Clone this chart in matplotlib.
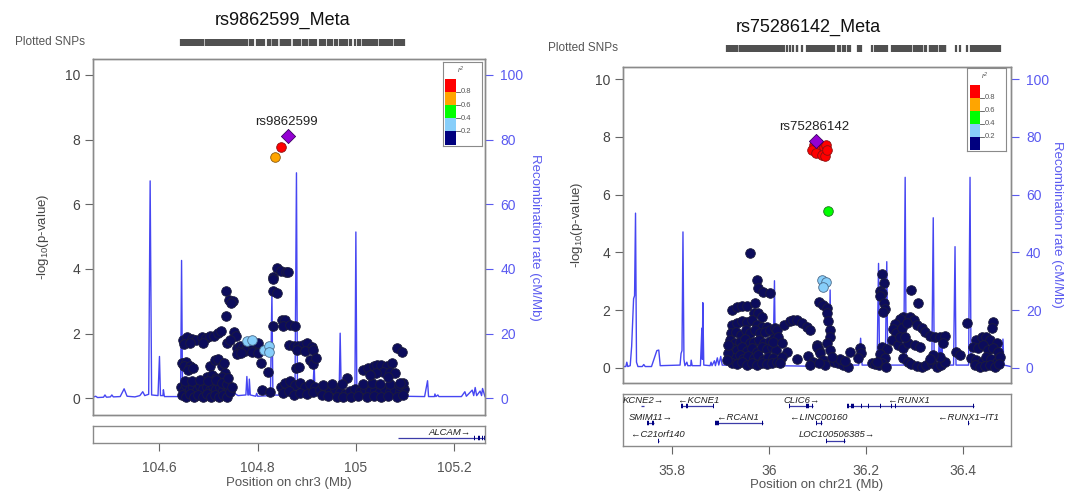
import matplotlib
matplotlib.use('Agg')
import matplotlib.pyplot as plt

plt.rcParams['font.family'] = ['Liberation Sans', 'DejaVu Sans']
plt.rcParams['mathtext.default'] = 'regular'

# ======================= DATA : left panel (chr3) =======================
left_title = 'rs9862599_Meta'
left_xlabel = 'Position on chr3 (Mb)'
left_xticks = [104.6, 104.8, 105.0, 105.2]
left_xticklabels = ['104.6', '104.8', '105', '105.2']
left_lead_name = 'rs9862599'
left_lead = [(104.862, 8.11)]
left_red = [(104.848, 7.78)]
left_orange = [(104.835, 7.46)]
left_green = []
left_lightblue = [(104.778, 1.77), (104.788, 1.80), (104.812, 1.50), (104.824, 1.62), (104.823, 1.44)]
left_navy = [
    (104.647, 1.80), (104.657, 1.89), (104.666, 1.82), (104.674, 1.80), (104.686, 1.89), (104.695, 1.85),
    (104.703, 1.93), (104.711, 1.93), (104.720, 2.01), (104.725, 2.09), (104.650, 1.68), (104.662, 1.72),
    (104.689, 1.72), (104.645, 1.08), (104.655, 1.13), (104.649, 0.98), (104.662, 0.98), (104.659, 0.88),
    (104.669, 0.93), (104.703, 0.98), (104.713, 1.17), (104.720, 1.21), (104.727, 1.00), (104.731, 1.08),
    (104.733, 0.77), (104.696, 0.67), (104.706, 0.72), (104.716, 0.62), (104.727, 0.67), (104.730, 0.46),
    (104.736, 3.32), (104.742, 3.04), (104.749, 3.01), (104.746, 2.94), (104.736, 2.55), (104.738, 1.70),
    (104.752, 2.06), (104.755, 1.93), (104.744, 1.80),
    (104.643, 0.36), (104.649, 0.26), (104.655, 0.41), (104.662, 0.28), (104.669, 0.36), (104.676, 0.24),
    (104.682, 0.38), (104.689, 0.28), (104.696, 0.36), (104.703, 0.24), (104.710, 0.38), (104.716, 0.28),
    (104.723, 0.36), (104.730, 0.24), (104.737, 0.36), (104.742, 0.28), (104.645, 0.10), (104.654, 0.05),
    (104.662, 0.13), (104.670, 0.05), (104.679, 0.10), (104.688, 0.05), (104.696, 0.13), (104.704, 0.05),
    (104.713, 0.10), (104.722, 0.05), (104.730, 0.10), (104.737, 0.05), (104.652, 0.52), (104.666, 0.52),
    (104.682, 0.57), (104.699, 0.52), (104.715, 0.55), (104.727, 0.48), (104.737, 0.44), (104.744, 0.18),
    (104.747, 0.36), (104.740, 0.62),
    (104.757, 1.55), (104.764, 1.60), (104.771, 1.58), (104.778, 1.62), (104.784, 1.60), (104.791, 1.58),
    (104.798, 1.55), (104.805, 1.52), (104.761, 1.44), (104.774, 1.47), (104.788, 1.44), (104.801, 1.41),
    (104.757, 1.37), (104.767, 1.39), (104.806, 1.08), (104.808, 0.24), (104.822, 0.82), (104.825, 0.18),
    (104.832, 2.24), (104.801, 1.70),
    (104.831, 3.76), (104.831, 3.68), (104.840, 4.02), (104.847, 3.92), (104.858, 3.89), (104.861, 3.89),
    (104.832, 3.30), (104.839, 3.25), (104.849, 2.42), (104.856, 2.42), (104.852, 2.22), (104.866, 2.27),
    (104.876, 2.24), (104.864, 1.65), (104.874, 1.60), (104.883, 1.60), (104.892, 1.65), (104.900, 1.70),
    (104.910, 1.58), (104.881, 1.50), (104.896, 1.47), (104.913, 1.50), (104.879, 0.93), (104.885, 0.96),
    (104.907, 1.19), (104.912, 1.06), (104.919, 1.24), (104.847, 0.36), (104.856, 0.46), (104.866, 0.52),
    (104.876, 0.41), (104.886, 0.48), (104.896, 0.36), (104.907, 0.44), (104.917, 0.36), (104.852, 0.15),
    (104.864, 0.21), (104.874, 0.10), (104.886, 0.15), (104.900, 0.13), (104.912, 0.18),
    (104.927, 0.26), (104.937, 0.31), (104.947, 0.24), (104.958, 0.28), (104.968, 0.18), (104.978, 0.13),
    (104.988, 0.21), (104.998, 0.28), (105.008, 0.21), (105.019, 0.28), (105.029, 0.21), (105.039, 0.26),
    (105.049, 0.21), (105.059, 0.28), (105.070, 0.21), (105.080, 0.26), (105.090, 0.21), (105.098, 0.28),
    (104.930, 0.10), (104.944, 0.07), (104.961, 0.05), (104.974, 0.03), (104.991, 0.05), (105.005, 0.07),
    (105.022, 0.05), (105.036, 0.07), (105.052, 0.05), (105.066, 0.07), (105.083, 0.05), (105.097, 0.10),
    (104.934, 0.41), (104.951, 0.44), (105.015, 0.44), (105.032, 0.46), (105.049, 0.44), (105.070, 0.44),
    (105.087, 0.41), (105.095, 0.46), (105.015, 0.88), (105.025, 0.93), (105.036, 1.00), (105.044, 1.03),
    (105.052, 1.03), (105.063, 0.98), (105.073, 1.10), (105.056, 0.82), (105.042, 0.77), (105.029, 0.72),
    (105.070, 0.82), (105.080, 0.77), (105.066, 0.67), (104.981, 0.62), (104.971, 0.44), (105.083, 1.55),
    (105.093, 1.44), (105.090, 0.48),
]
left_recomb_pos = [
    104.464, 104.470, 104.474, 104.486, 104.489, 104.492, 104.500, 104.503, 104.506, 104.520, 104.528,
    104.534, 104.550, 104.560, 104.566, 104.570, 104.578, 104.581, 104.584, 104.597, 104.600, 104.602,
    104.607, 104.608, 104.610, 104.640, 104.643, 104.645, 104.647, 104.660, 104.700, 104.740, 104.750,
    104.760, 104.776, 104.778, 104.780, 104.782, 104.783, 104.785, 104.796, 104.798, 104.800, 104.826,
    104.829, 104.831, 104.870, 104.876, 104.879, 104.881, 104.912, 104.915, 104.917, 104.960, 104.966,
    104.968, 104.970, 104.976, 104.998, 105.000, 105.002, 105.140, 105.146, 105.148, 105.160, 105.161,
    105.163, 105.167, 105.169, 105.215, 105.222, 105.225, 105.237, 105.240, 105.243, 105.246, 105.253,
    105.256, 105.258, 105.263]
left_recomb_rate = [
    0.3, 0.6, 0.2, 0.3, 1.0, 0.3, 0.4, 1.0, 0.4, 0.5, 2.9,
    0.6, 0.4, 0.8, 2.0, 0.8, 1.2, 67.2, 1.0, 0.8, 12.9, 0.8,
    0.8, 2.6, 0.5, 0.5, 1.5, 42.6, 1.0, 0.6, 0.5, 0.8, 1.8,
    0.8, 1.0, 6.7, 1.0, 1.0, 5.9, 1.0, 0.6, 1.5, 0.6, 0.8,
    32.5, 1.0, 0.8, 1.5, 69.7, 1.5, 0.8, 11.0, 0.8, 1.0, 2.5,
    20.1, 3.6, 1.0, 0.8, 51.4, 0.8, 0.5, 5.4, 0.5, 0.5, 1.3,
    0.5, 1.0, 0.5, 0.5, 2.0, 0.6, 2.5, 0.8, 3.3, 0.8, 2.2,
    0.8, 3.0, 0.5]
# genes: name, start, end, strand, row, label position, exons
left_genes = [
    ('ALCAM', 105.086, 105.40, '+', 0, 105.190,
     [(105.240, 105.243), (105.249, 105.252), (105.256, 105.259), (105.261, 105.264)]),
]

# ======================= DATA : right panel (chr21) =======================
right_title = 'rs75286142_Meta'
right_xlabel = 'Position on chr21 (Mb)'
right_xticks = [35.8, 36.0, 36.2, 36.4]
right_xticklabels = ['35.8', '36', '36.2', '36.4']
right_lead_name = 'rs75286142'
right_lead = [(36.097, 7.85)]
right_red = [(36.093, 7.72), (36.101, 7.79), (36.105, 7.61), (36.114, 7.65), (36.118, 7.72),
             (36.089, 7.54), (36.097, 7.44), (36.110, 7.37), (36.116, 7.34), (36.120, 7.54)]
right_orange = []
right_green = [(36.122, 5.43)]
right_lightblue = [(36.109, 3.05), (36.118, 2.99), (36.112, 2.79)]
right_navy = [
    (35.923, 2.01), (35.933, 2.10), (35.944, 2.15), (35.954, 2.15), (35.961, 3.99), (35.975, 3.05),
    (35.978, 2.76), (35.988, 2.64), (36.001, 2.61), (35.971, 2.24), (35.969, 1.89), (35.978, 1.91),
    (35.985, 1.78), (35.923, 1.49), (35.933, 1.55), (35.944, 1.64), (35.954, 1.60), (35.964, 1.66),
    (35.975, 1.49), (35.985, 1.43), (35.995, 1.41), (35.921, 1.20), (35.932, 1.26), (35.942, 1.14),
    (35.953, 1.32), (35.961, 1.20), (35.971, 1.32), (35.982, 1.20), (35.992, 1.26), (36.002, 1.32),
    (36.012, 1.37), (35.920, 0.97), (35.930, 0.85), (35.940, 0.91), (35.951, 0.99), (35.961, 0.85),
    (35.969, 0.91), (35.980, 0.97), (35.990, 0.85), (36.001, 0.95), (36.010, 1.03), (35.923, 0.68),
    (35.933, 0.62), (35.944, 0.74), (35.954, 0.60), (35.964, 0.68), (35.975, 0.57), (35.985, 0.74),
    (35.995, 0.65), (36.006, 0.74), (36.014, 0.62), (35.920, 0.42), (35.928, 0.33), (35.939, 0.45),
    (35.947, 0.30), (35.957, 0.42), (35.968, 0.33), (35.978, 0.45), (35.987, 0.28), (35.997, 0.39),
    (36.008, 0.33), (35.923, 0.18), (35.933, 0.14), (35.944, 0.22), (35.954, 0.10), (35.964, 0.18),
    (35.975, 0.10), (35.985, 0.18), (35.995, 0.14), (36.006, 0.18), (36.016, 0.22), (35.916, 0.51),
    (35.914, 0.80), (35.913, 0.28),
    (36.016, 1.32), (36.030, 1.49), (36.043, 1.64), (36.050, 1.66), (36.057, 1.66), (36.067, 1.57),
    (36.078, 1.43), (36.085, 1.32), (36.019, 1.08), (36.009, 0.91), (36.026, 0.85), (36.037, 0.57),
    (36.057, 0.30), (36.081, 0.42), (36.091, 0.22), (36.085, 0.10), (36.098, 0.80), (36.102, 0.62),
    (36.026, 0.39), (36.023, 0.16),
    (36.102, 2.29), (36.112, 2.18), (36.119, 2.06), (36.120, 1.89), (36.122, 1.64), (36.126, 1.32),
    (36.126, 1.08), (36.119, 0.85), (36.098, 0.74), (36.105, 0.51), (36.126, 0.62), (36.112, 0.28),
    (36.133, 0.22), (36.143, 0.18), (36.153, 0.10), (36.162, 0.05), (36.167, 0.57), (36.146, 0.30),
    (36.157, 0.25), (36.129, 0.39), (36.116, 0.10), (36.102, 0.18),
    (36.188, 0.68), (36.189, 0.51), (36.184, 0.33),
    (36.234, 3.25), (36.237, 2.95), (36.229, 2.68), (36.233, 2.61), (36.228, 2.49), (36.237, 2.26),
    (36.239, 2.03), (36.236, 1.95), (36.234, 0.74), (36.243, 0.65), (36.230, 0.48), (36.239, 0.33),
    (36.212, 0.16), (36.219, 0.14), (36.226, 0.10), (36.233, 0.16), (36.241, 0.05), (36.222, 0.22),
    (36.294, 2.70), (36.308, 2.24), (36.277, 1.75), (36.270, 1.68), (36.291, 1.75), (36.299, 1.66),
    (36.260, 1.52), (36.256, 1.34), (36.263, 1.20), (36.274, 1.37), (36.284, 1.55), (36.305, 1.49),
    (36.315, 1.37), (36.322, 1.26), (36.332, 1.11), (36.342, 1.06), (36.353, 1.08), (36.363, 1.11),
    (36.360, 0.85), (36.253, 0.97), (36.267, 0.80), (36.277, 0.68), (36.287, 0.85), (36.301, 0.80),
    (36.311, 0.71), (36.270, 1.08), (36.281, 1.06), (36.277, 0.33), (36.287, 0.22), (36.294, 0.14),
    (36.305, 0.07), (36.315, 0.05), (36.325, 0.10), (36.336, 0.16), (36.346, 0.05), (36.356, 0.10),
    (36.363, 0.22), (36.353, 0.39), (36.339, 0.45), (36.332, 0.30), (36.387, 0.57), (36.394, 0.45),
    (36.408, 1.55), (36.463, 1.60), (36.461, 1.40), (36.428, 0.97), (36.439, 1.06), (36.449, 1.08),
    (36.456, 0.97), (36.470, 0.85), (36.421, 0.74), (36.432, 0.68), (36.442, 0.80), (36.452, 0.62),
    (36.463, 0.68), (36.473, 0.57), (36.418, 0.33), (36.428, 0.28), (36.439, 0.22), (36.449, 0.39),
    (36.459, 0.30), (36.470, 0.22), (36.476, 0.39), (36.425, 0.10), (36.435, 0.05), (36.445, 0.07),
    (36.456, 0.10), (36.466, 0.05), (36.475, 0.14),
]
right_recomb_pos = [
    35.6975, 35.704, 35.706, 35.708, 35.713, 35.716, 35.720, 35.722, 35.724, 35.726, 35.729,
    35.738, 35.741, 35.744, 35.757, 35.762, 35.768, 35.772, 35.775,
    35.816, 35.818, 35.820, 35.822, 35.824, 35.826, 35.830, 35.832, 35.838, 35.839, 35.841,
    35.858, 35.861, 35.862, 35.863, 35.865, 35.878, 35.880, 35.882, 35.887, 35.889, 35.893, 35.896,
    35.900, 35.903, 36.008, 36.011, 36.013, 36.090, 36.124, 36.126, 36.128, 36.185, 36.189, 36.192,
    36.223, 36.226, 36.228, 36.234, 36.240, 36.243, 36.245, 36.278, 36.281, 36.283,
    36.336, 36.339, 36.341, 36.349, 36.352, 36.354, 36.357, 36.359, 36.381, 36.384, 36.386,
    36.412, 36.415, 36.417, 36.455, 36.460, 36.466, 36.470, 36.480, 36.483, 36.485, 36.499]
right_recomb_rate = [
    0.5, 0.5, 2.0, 0.5, 0.8, 7.5, 24.0, 25.0, 53.6, 2.0, 0.5,
    0.5, 1.2, 0.5, 0.5, 3.0, 6.0, 6.2, 0.8,
    1.0, 5.0, 6.0, 47.1, 3.0, 0.8, 2.0, 0.8, 0.8, 2.7, 0.8,
    0.8, 13.8, 3.0, 22.6, 1.0, 0.8, 2.0, 0.8, 2.5, 0.8, 3.5, 1.0,
    4.0, 1.0, 0.8, 30.2, 0.8, 0.6, 1.0, 27.0, 1.0, 1.0, 10.3, 1.0,
    1.0, 36.2, 3.0, 3.0, 3.0, 36.8, 1.0, 1.0, 66.0, 1.0,
    1.0, 52.0, 1.0, 1.0, 12.0, 1.0, 9.0, 1.0, 1.0, 42.0, 1.0,
    1.0, 66.0, 1.0, 1.0, 4.0, 4.0, 1.0, 1.0, 10.0, 1.0, 0.5]
right_genes = [
    ('KCNE2', 35.7346, 35.7421, '+', 0, 35.740, [(35.7346, 35.7356), (35.7411, 35.7421)]),
    ('KCNE1', 35.818, 35.885, '-', 0, 35.854, [(35.818, 35.823), (35.828, 35.833), (35.884, 35.886)]),
    ('CLIC6', 36.042, 36.091, '+', 0, 36.067, [(36.041, 36.044), (36.077, 36.083), (36.088, 36.091)]),
    ('RUNX1', 36.160, 36.423, '-', 0, 36.289,
     [(36.160, 36.166), (36.170, 36.175), (36.190, 36.192), (36.204, 36.206), (36.229, 36.231),
      (36.251, 36.253), (36.259, 36.263), (36.422, 36.424)]),
    ('SMIM11', 35.747, 35.762, '+', 1, 35.756, [(35.747, 35.751), (35.758, 35.762)]),
    ('RCAN1', 35.888, 35.988, '-', 1, 35.936, [(35.888, 35.897), (35.986, 35.988)]),
    ('LINC00160', 36.096, 36.110, '-', 1, 36.102, [(36.096, 36.099), (36.107, 36.110)]),
    ('RUNX1\u2212IT1', 36.410, 36.413, '-', 1, 36.411, [(36.410, 36.413)]),
    ('C21orf140', 35.770, 35.773, '-', 2, 35.771, [(35.770, 35.773)]),
    ('LOC100506385', 36.117, 36.157, '+', 2, 36.140, [(36.117, 36.119), (36.155, 36.157)]),
]

# ======================= styling =======================
W, H = 1078, 491
GRAY = '#555555'
SPINE = '#8a8a8a'
RECOMB = '#4646f2'
RECOMB_TXT = '#5a5af0'
NAVY_FC = '#0c0c5c'
NAVY_EC = '#1c1c3c'
LEGEND_COLORS = ['#00007f', '#87cefa', '#00ff00', '#ffa500', '#ff0000']


def px_rect(x0, y0, x1, y1):
    return [x0 / W, 1 - y1 / H, (x1 - x0) / W, (y1 - y0) / H]


def scatter(ax, pts, fc, ec, s=48, marker='o', z=3):
    if not pts:
        return
    xs = [p[0] for p in pts]
    ys = [p[1] for p in pts]
    ax.scatter(xs, ys, s=s, c=fc, edgecolors=ec, linewidths=0.6, marker=marker, zorder=z)


def draw_legend(ax, rect):
    lg = ax.inset_axes(rect)
    lg.set_xlim(0, 1)
    lg.set_ylim(0, 1)
    lg.set_xticks([])
    lg.set_yticks([])
    for sp in lg.spines.values():
        sp.set_color(SPINE)
        sp.set_linewidth(0.8)
    lg.set_zorder(10)
    y0, y1 = 0.01, 0.80
    step = (y1 - y0) / 5
    for i, col in enumerate(LEGEND_COLORS):
        lg.add_patch(plt.Rectangle((0.06, y0 + i * step), 0.27, step, facecolor=col,
                                   edgecolor='none'))
    for i, lab in enumerate(['0.2', '0.4', '0.6', '0.8']):
        yy = y0 + (i + 1) * step
        lg.plot([0.33, 0.42], [yy, yy], color=GRAY, lw=0.6)
        lg.text(0.44, yy, lab, fontsize=5.5, color=GRAY, va='center', ha='left')
    lg.text(0.45, 0.90, 'r$^2$', fontsize=5.5, color=GRAY, ha='center', va='center', style='italic')


def draw_panel(fig, main_px, gene_px, snp_px, xlim, ylim, title, title_xy, snp_lab_xy,
               xticks, xticklabels, xlabel, lead_name, lead, red, orange, green, lightblue, navy,
               rpos, rrate, genes, legend_rect, ylab_x, rlab_x, lead_off, nrows):
    ax = fig.add_axes(px_rect(*main_px))
    ax2 = ax.twinx()
    ax.set_zorder(ax2.get_zorder() + 1)
    ax.patch.set_visible(False)

    ax2.plot(rpos, rrate, color=RECOMB, lw=1.0, zorder=1)
    ax2.set_ylim(ylim[0] * 10, ylim[1] * 10)
    ax2.set_yticks([0, 20, 40, 60, 80, 100])
    ax2.tick_params(axis='y', colors=RECOMB_TXT, labelsize=10, length=6, width=0.8, pad=5)

    scatter(ax, navy, NAVY_FC, NAVY_EC)
    scatter(ax, lightblue, '#87cefa', '#4a6a8a')
    scatter(ax, green, '#00ff00', '#207020')
    scatter(ax, orange, '#ffa500', '#8a5a10')
    scatter(ax, red, '#ff0000', '#8a1010')
    scatter(ax, lead, '#9400d3', '#3a0060', s=52, marker='D', z=5)
    ax.text(lead[0][0] - 0.004, lead[0][1] + lead_off, lead_name, fontsize=9.5, color='#222222',
            ha='center', va='bottom', zorder=6)

    ax.set_xlim(*xlim)
    ax.set_ylim(*ylim)
    ax2.set_xlim(*xlim)
    ax.set_xticks([])
    ax.set_yticks([0, 2, 4, 6, 8, 10])
    ax.tick_params(axis='y', colors='#666666', labelcolor='#444444', labelsize=10, length=6,
                   width=0.8, pad=3)
    for a in (ax, ax2):
        for sp in a.spines.values():
            sp.set_color(SPINE)
            sp.set_linewidth(1.0)

    draw_legend(ax, legend_rect)

    # gene track
    g = fig.add_axes(px_rect(*gene_px))
    g.set_xlim(*xlim)
    g.set_ylim(nrows, 0)
    g.set_yticks([])
    g.set_xticks(xticks)
    g.set_xticklabels(xticklabels)
    g.tick_params(axis='x', colors='#666666', labelcolor='#555555', labelsize=10, length=6,
                  width=0.8, pad=7)
    for sp in g.spines.values():
        sp.set_color(SPINE)
        sp.set_linewidth(1.0)
    g.set_xlabel(xlabel, fontsize=9.5, color='#555555', labelpad=1)
    for name, start, end, strand, row, labx, exons in genes:
        yl = row + 0.70
        g.plot([start, end], [yl, yl], color='#3c3ca8', lw=0.9, solid_capstyle='butt')
        for e0, e1 in exons:
            g.plot([e0, e1], [yl, yl], color='#000080', lw=3.2, solid_capstyle='butt')
        lab = (name + '\u2192') if strand == '+' else ('\u2190' + name)
        g.text(labx, row + 0.36, lab, fontsize=6.8, style='italic', color='#222222',
               ha='center', va='center', clip_on=True)

    # plotted SNPs track
    s = fig.add_axes(px_rect(*snp_px))
    s.set_xlim(*xlim)
    s.set_ylim(0, 1)
    s.axis('off')
    allx = [p[0] for grp in (navy, lightblue, green, orange, red, lead) for p in grp]
    s.vlines(allx, 0, 1, color='#505050', lw=1.6)

    fig.text(title_xy[0] / W, 1 - title_xy[1] / H, title, fontsize=13, ha='center', va='center',
             color='#111111')
    fig.text(snp_lab_xy[0] / W, 1 - snp_lab_xy[1] / H, 'Plotted SNPs', fontsize=8.5,
             ha='left', va='center', color='#555555')
    ymid = 1 - ((main_px[1] + main_px[3]) / 2) / H
    fig.text(ylab_x / W, ymid, '-log$_{10}$(p-value)', rotation=90, fontsize=9.5,
             color='#444444', ha='center', va='center')
    fig.text(rlab_x / W, ymid, 'Recombination rate (cM/Mb)', rotation=270, fontsize=9.5,
             color=RECOMB_TXT, ha='center', va='center')


fig = plt.figure(figsize=(W / 100, H / 100), dpi=100)

draw_panel(fig, (92.7, 59, 485, 415), (92.7, 425.7, 485, 443.3), (92.7, 39, 485, 46),
           (104.464, 105.263), (-0.52, 10.49), left_title, (283, 20), (15, 42),
           left_xticks, left_xticklabels, left_xlabel, left_lead_name, left_lead, left_red,
           left_orange, left_green, left_lightblue, left_navy, left_recomb_pos, left_recomb_rate,
           left_genes, [0.893, 0.757, 0.100, 0.235], 43, 535, 0.25, 1)

draw_panel(fig, (622.7, 66.7, 1010.7, 383), (622.7, 394, 1010.7, 445.7), (622.7, 45, 1010.7, 52),
           (35.6975, 36.499), (-0.52, 10.43), right_title, (808, 27), (548, 48),
           right_xticks, right_xticklabels, right_xlabel, right_lead_name, right_lead, right_red,
           right_orange, right_green, right_lightblue, right_navy, right_recomb_pos, right_recomb_rate,
           right_genes, [0.888, 0.735, 0.100, 0.26], 577, 1057, 0.3, 3)

fig.savefig('out.png', dpi=100)
